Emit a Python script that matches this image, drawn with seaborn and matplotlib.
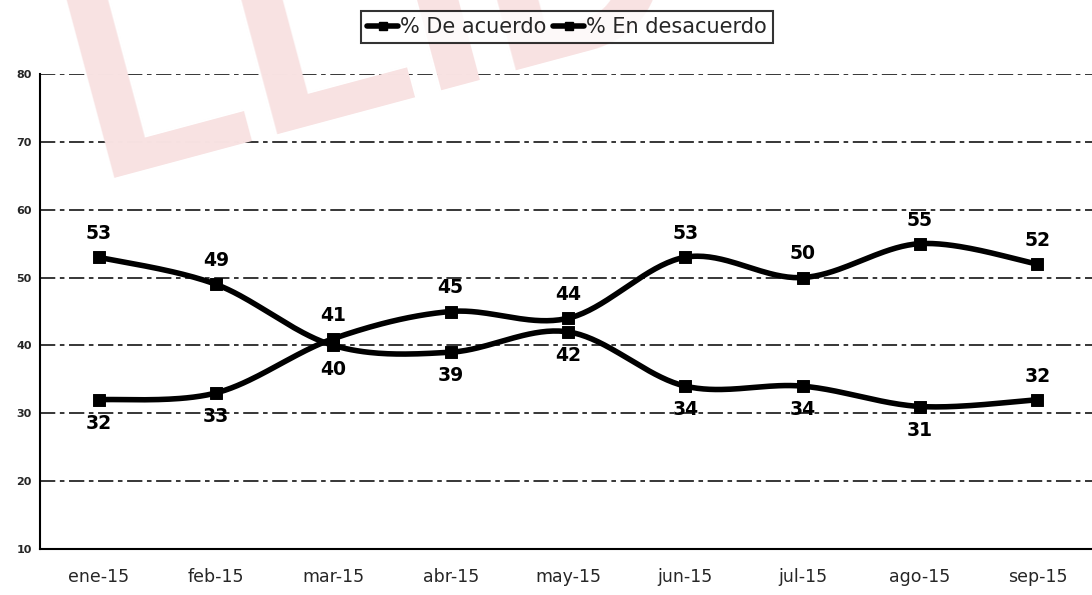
import numpy as np
import pandas as pd
import matplotlib
matplotlib.use("Agg")
import matplotlib.pyplot as plt
from matplotlib.lines import Line2D
import seaborn as sns

# chart values
months = ["ene-15", "feb-15", "mar-15", "abr-15", "may-15",
          "jun-15", "jul-15", "ago-15", "sep-15"]
de_acuerdo = [53, 49, 40, 39, 42, 34, 34, 31, 32]
en_desacuerdo = [32, 33, 41, 45, 44, 53, 50, 55, 52]
series_names = ["% De acuerdo", "% En desacuerdo"]
y_ticks = [10, 20, 30, 40, 50, 60, 70, 80]

# where each data label sits relative to its point (+1 above, -1 below)
side_acuerdo = [1, 1, -1, -1, -1, -1, -1, -1, 1]
side_desacuerdo = [-1, -1, 1, 1, 1, 1, 1, 1, 1]


def smooth_curve(values, steps=40):
    # Excel-style smoothed line: cubic Bezier with Catmull-Rom control points
    pts = np.column_stack([np.arange(len(values)), np.asarray(values, float)])
    padded = np.vstack([pts[0], pts, pts[-1]])
    xs, ys = [], []
    t = np.linspace(0, 1, steps)
    for i in range(len(pts) - 1):
        p0, p3 = padded[i + 1], padded[i + 2]
        c1 = p0 + (padded[i + 2] - padded[i]) / 6
        c2 = p3 - (padded[i + 3] - padded[i + 1]) / 6
        seg = ((1 - t) ** 3)[:, None] * p0 + (3 * (1 - t) ** 2 * t)[:, None] * c1 \
            + (3 * (1 - t) * t ** 2)[:, None] * c2 + (t ** 3)[:, None] * p3
        xs.extend(seg[:, 0])
        ys.extend(seg[:, 1])
    return pd.DataFrame({"x": xs, "y": ys})


sns.set_style("white")
plt.rcParams["font.family"] = ["DejaVu Sans"]

W, H = 1092, 595
fig = plt.figure(figsize=(W / 100, H / 100), dpi=100)
fig.patch.set_facecolor("white")

# faint red watermark behind the plot
fig.text(95 / W, 1 - 178 / H, "LLID", fontsize=200, fontweight="bold",
         color="#f8e2e2", rotation=15, rotation_mode="anchor",
         ha="left", va="baseline", zorder=0, family="Liberation Sans")

ax = fig.add_axes([40 / W, (H - 549) / H, 1056 / W, (549 - 74) / H])
ax.set_facecolor("none")

for val in y_ticks[1:]:
    ax.axhline(val, color="black", lw=1.1, ls=(0, (10, 3, 3, 3)), zorder=1)

for values, sides in [(de_acuerdo, side_acuerdo), (en_desacuerdo, side_desacuerdo)]:
    curve = smooth_curve(values)
    sns.lineplot(data=curve, x="x", y="y", sort=False, color="black",
                 lw=4, ax=ax, zorder=3)
    pts = pd.DataFrame({"x": np.arange(len(values)), "y": values})
    sns.scatterplot(data=pts, x="x", y="y", marker="s", s=70, color="black",
                    edgecolor="black", ax=ax, zorder=4)
    for i, v in enumerate(values):
        off = 17 if sides[i] > 0 else -17
        ax.annotate(str(v), (i, v), xytext=(0, off), textcoords="offset points",
                    ha="center", va="center", fontsize=13.5, fontweight="bold",
                    color="black", zorder=5)

ax.set_xlim(-0.5, 8.5)
ax.set_ylim(10, 80)
ax.set_yticks(y_ticks)
ax.set_yticklabels([str(v) for v in y_ticks], fontsize=8, fontweight="bold")
ax.set_xticks(range(len(months)))
ax.set_xticklabels(months, fontsize=12.5)
ax.set_xticks(np.arange(-0.5, 8.6, 1), minor=True)
ax.tick_params(axis="x", which="major", length=0, pad=14)
ax.tick_params(axis="x", which="minor", length=4, width=1.2, color="black", direction="out")
ax.tick_params(axis="y", length=4, width=1.2, color="black", direction="out", pad=2)
ax.set_xlabel("")
ax.set_ylabel("")

for side in ["top", "right"]:
    ax.spines[side].set_visible(False)
for side in ["left", "bottom"]:
    ax.spines[side].set_color("black")
    ax.spines[side].set_linewidth(1.5)

handles = [Line2D([0], [0], color="black", lw=4, marker="s", markersize=6)
           for _ in series_names]
leg = fig.legend(handles, series_names, loc="center", bbox_to_anchor=(567 / W, 1 - 27 / H),
                 ncol=2, frameon=True, fancybox=False, edgecolor="black",
                 fontsize=15, handlelength=1.5, handletextpad=0.1,
                 columnspacing=0.3, borderpad=0.3)
leg.get_frame().set_linewidth(1.5)

fig.savefig("out.png", dpi=100, facecolor="white")
